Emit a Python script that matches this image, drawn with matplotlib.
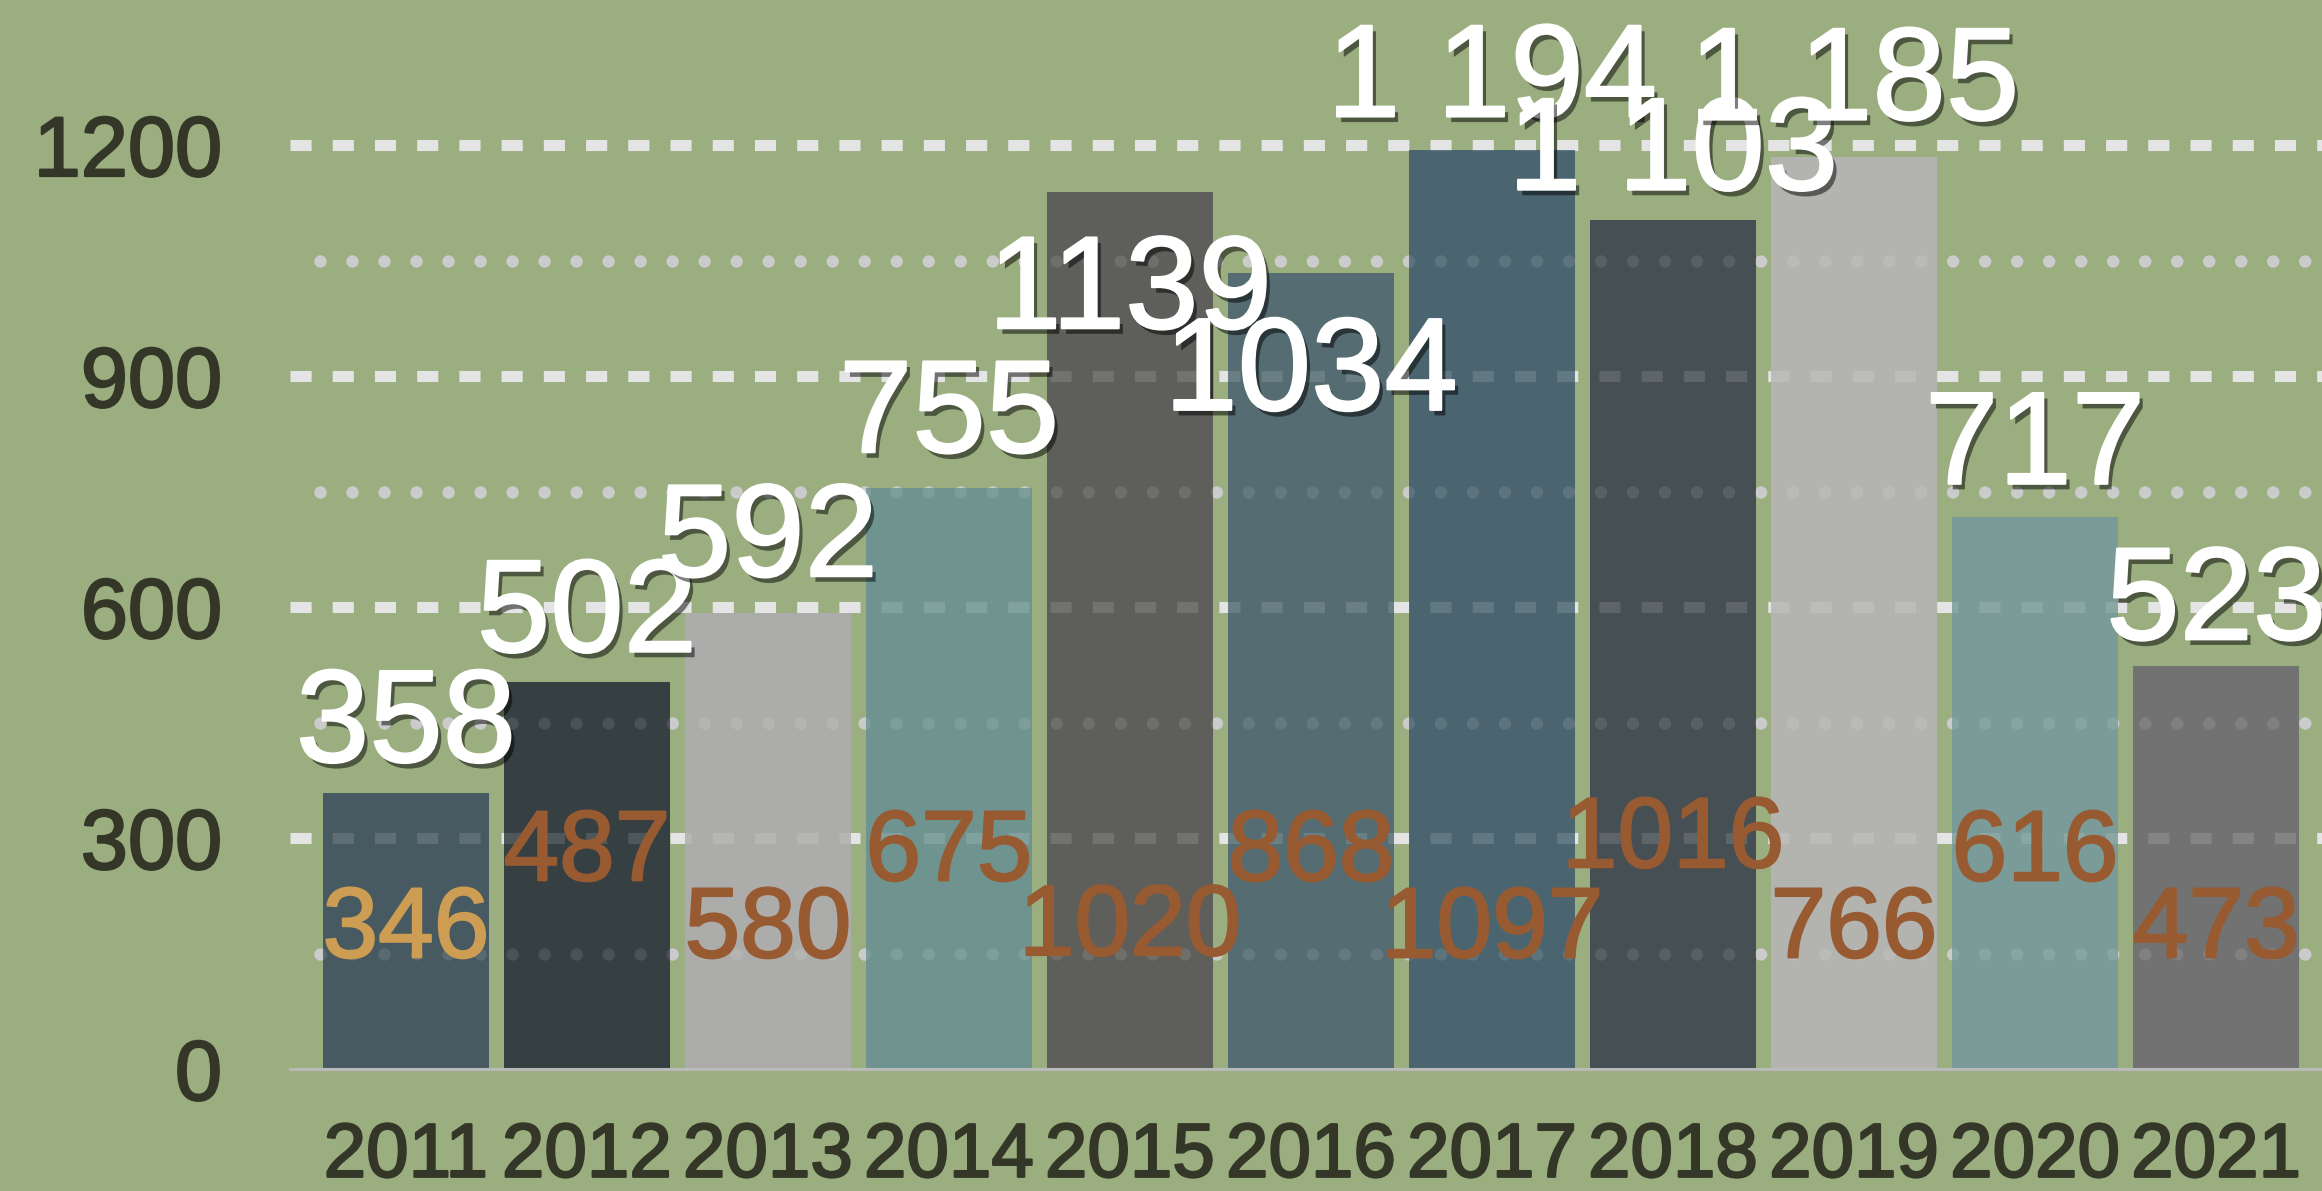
import numpy as np
import matplotlib
matplotlib.use("Agg")
import matplotlib.pyplot as plt
import matplotlib.patheffects as pe

# ---- data ----
years = ["2011", "2012", "2013", "2014", "2015", "2016", "2017", "2018", "2019", "2020", "2021"]
bar_values = [358, 502, 592, 755, 1139, 1034, 1194, 1103, 1185, 717, 523]
bar_labels = ["358", "502", "592", "755", "1139", "1034", "1 194", "1 103", "1 185", "717", "523"]
inner_values = [346, 487, 580, 675, 1020, 868, 1097, 1016, 766, 616, 473]
y_ticks = [0, 300, 600, 900, 1200]
minor_grid = [150, 450, 750, 1050]

# ---- style ----
bar_colors = ["#485a61", "#363f42", "#acacaa", "#6f9490", "#5e5e5b", "#546c72",
              "#4b6570", "#464f53", "#b3b3b0", "#7a9b97", "#727272"]
inner_colors = ["#cc9d52"] + ["#985a31"] * 10
label_offsets = [41, 40, 48, 46, -177, -178, 43, 39, 48, 43, 35]
inner_base = [145, 245, 145, 245, 148, 245, 145, 262, 145, 245, 145]
bg = "#9bae80"
txt_dark = "#343627"
FONT = "Liberation Sans"

W, H = 2322, 1191
fig = plt.figure(figsize=(W / 100, H / 100), dpi=100, facecolor=bg)
ax = fig.add_axes([290 / W, (H - 1069) / H, 1 - 290 / W, 1069 / H])
ax.set_facecolor(bg)

x = np.arange(len(years))
ax.set_xlim(-0.64, len(years) - 1 + 0.585)
ax.set_ylim(0, 1069 / 0.77)

major_ls = (0, (1.9, 1.9))
minor_ls = (0.0, (0.001, 2.56))

# gridlines under bars
for v in y_ticks[1:]:
    ax.axhline(v, color="#e0e0e0", linewidth=8, linestyle=major_ls,
               dash_capstyle="butt", zorder=0)
for v in minor_grid:
    ax.axhline(v, xmin=0.015, color="#c6c6c6", linewidth=9, linestyle=minor_ls,
               dash_capstyle="round", zorder=0)

ax.bar(x, bar_values, width=0.915, color=bar_colors, zorder=2, linewidth=0)

# faint gridlines showing through bars
for v in y_ticks[1:]:
    ax.axhline(v, color="#ffffff", alpha=0.13, linewidth=8, linestyle=major_ls,
               dash_capstyle="butt", zorder=3)
for v in minor_grid:
    ax.axhline(v, xmin=0.015, color="#ffffff", alpha=0.10, linewidth=9,
               linestyle=minor_ls, dash_capstyle="round", zorder=3)

# spines
for s in ["top", "right", "left"]:
    ax.spines[s].set_visible(False)
ax.spines["bottom"].set_color("#b9b9b9")
ax.spines["bottom"].set_linewidth(2.2)
ax.spines["bottom"].set_zorder(4)

ax.set_yticks(y_ticks)
ax.set_yticklabels([str(t) for t in y_ticks])
ax.set_xticks(x)
ax.set_xticklabels(years)
ax.tick_params(axis="y", which="both", length=0, pad=49, labelsize=61, labelcolor=txt_dark)
ax.tick_params(axis="x", which="both", length=0, pad=38, labelsize=55, labelcolor=txt_dark)
tick_fx = [pe.withStroke(linewidth=1.6, foreground=txt_dark)]
for lab in ax.get_yticklabels() + ax.get_xticklabels():
    lab.set_fontfamily(FONT)
    lab.set_path_effects(tick_fx)

shadow = [pe.withSimplePatchShadow(offset=(3, -4), shadow_rgbFace="black", alpha=0.5),
          pe.withStroke(linewidth=1.5, foreground="white")]

for i in range(len(years)):
    ax.text(x[i], inner_base[i], str(inner_values[i]), ha="center", va="baseline",
            fontsize=72, color=inner_colors[i], family=FONT, zorder=5,
            path_effects=[pe.withStroke(linewidth=1.5, foreground=inner_colors[i])])

for i in range(len(years)):
    ax.text(x[i], bar_values[i] + label_offsets[i], bar_labels[i], ha="center",
            va="baseline", fontsize=95, color="white", family=FONT, zorder=6,
            path_effects=shadow)

fig.savefig("out.png", dpi=100, facecolor=bg)
